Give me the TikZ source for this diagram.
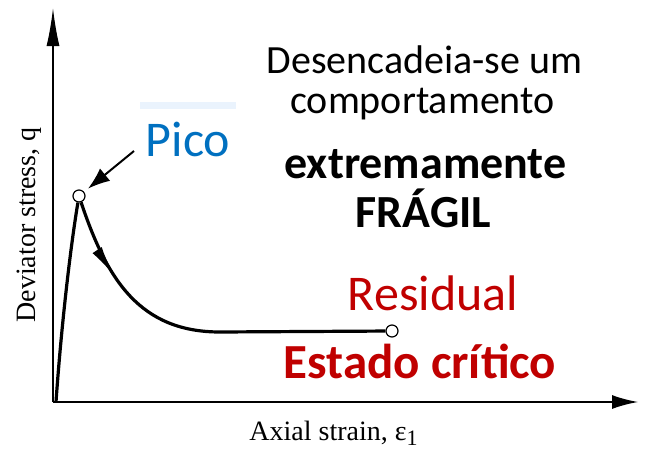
\documentclass[tikz,border=0pt]{standalone}
\usepackage{fontspec}
\setmainfont{Carlito}
\newfontfamily\tnrfont{Liberation Serif}
\usetikzlibrary{arrows.meta,decorations.markings}
\definecolor{picoblue}{HTML}{0070C0}
\definecolor{resred}{HTML}{C00000}
\definecolor{barblue}{HTML}{EAF3FD}
\tikzset{
  axisline/.style={line width=1.6pt, black},
  curveline/.style={line width=3.2pt, black},
  pointmark/.style={circle, draw=black, line width=1.2pt, fill=white, minimum size=12pt, inner sep=0pt},
  txt/.style={anchor=base, inner sep=0pt},
  regtext/.style={txt, font=\fontsize{40}{40}\selectfont},
  boldtext/.style={txt, font=\fontsize{46}{46}\selectfont\bfseries},
  axlabel/.style={txt, font=\tnrfont\fontsize{28}{28}\selectfont},
}
\begin{document}
\begin{tikzpicture}[x=1pt,y=-1pt]
\useasboundingbox (0,0) rectangle (646,450);
% axes
\coordinate (O) at (53,402);
\coordinate (ytop) at (53,8);
\coordinate (xend) at (638,402);
\draw[axisline, -{Latex[length=38pt,width=13pt]}] (O) -- (ytop);
\draw[axisline, -{Latex[length=26pt,width=14pt]}] (O) -- (xend);
% points
\node[pointmark] (peak) at (79,196) {};
\node[pointmark] (res) at (392,331) {};
\coordinate (start) at (56,402);
\coordinate (flat) at (220,332);
% curve
\draw[curveline] (start) .. controls (61,330) and (70,250) .. (peak);
\draw[curveline, postaction={decorate}, decoration={markings, mark=at position 82pt with {\arrow{Latex[length=32pt,width=11pt]}}}]
  (peak) .. controls (107,280) and (140,332) .. (flat) -- (res);
% Pico arrow
\coordinate (picofrom) at (134,151);
\draw[line width=2pt, -{Latex[length=22pt,width=16pt]}, shorten >=5pt] (picofrom) -- (peak);
% bar above Pico
\node[fill=barblue, minimum width=96pt, minimum height=7pt, inner sep=0pt, anchor=north west] (bar) at (140,102) {};
% labels
\node[txt, font=\fontsize{50}{50}\selectfont, text=picoblue] (pico) at (188,156) {Pico};
\node[regtext] (l1) at (424.5,73) {Desencadeia-se um};
\node[regtext] (l2) at (422.5,113) {comportamento};
\node[boldtext] (l3) at (425.5,178) {extremamente};
\node[boldtext] (l4) at (423.5,227) {FRÁGIL};
\node[txt, font=\fontsize{50}{50}\selectfont, text=resred] (resid) at (433,310) {Residual};
\node[txt, font=\fontsize{49}{49}\selectfont\bfseries, text=resred] (crit) at (420,378) {Estado crítico};
\node[axlabel, rotate=90] (ylab) at (35,225) {Deviator stress, q};
\node[axlabel] (xlab) at (333.5,440) {Axial strain, ε\raisebox{-5pt}{\fontsize{22}{22}\selectfont 1}};
\end{tikzpicture}
\end{document}
